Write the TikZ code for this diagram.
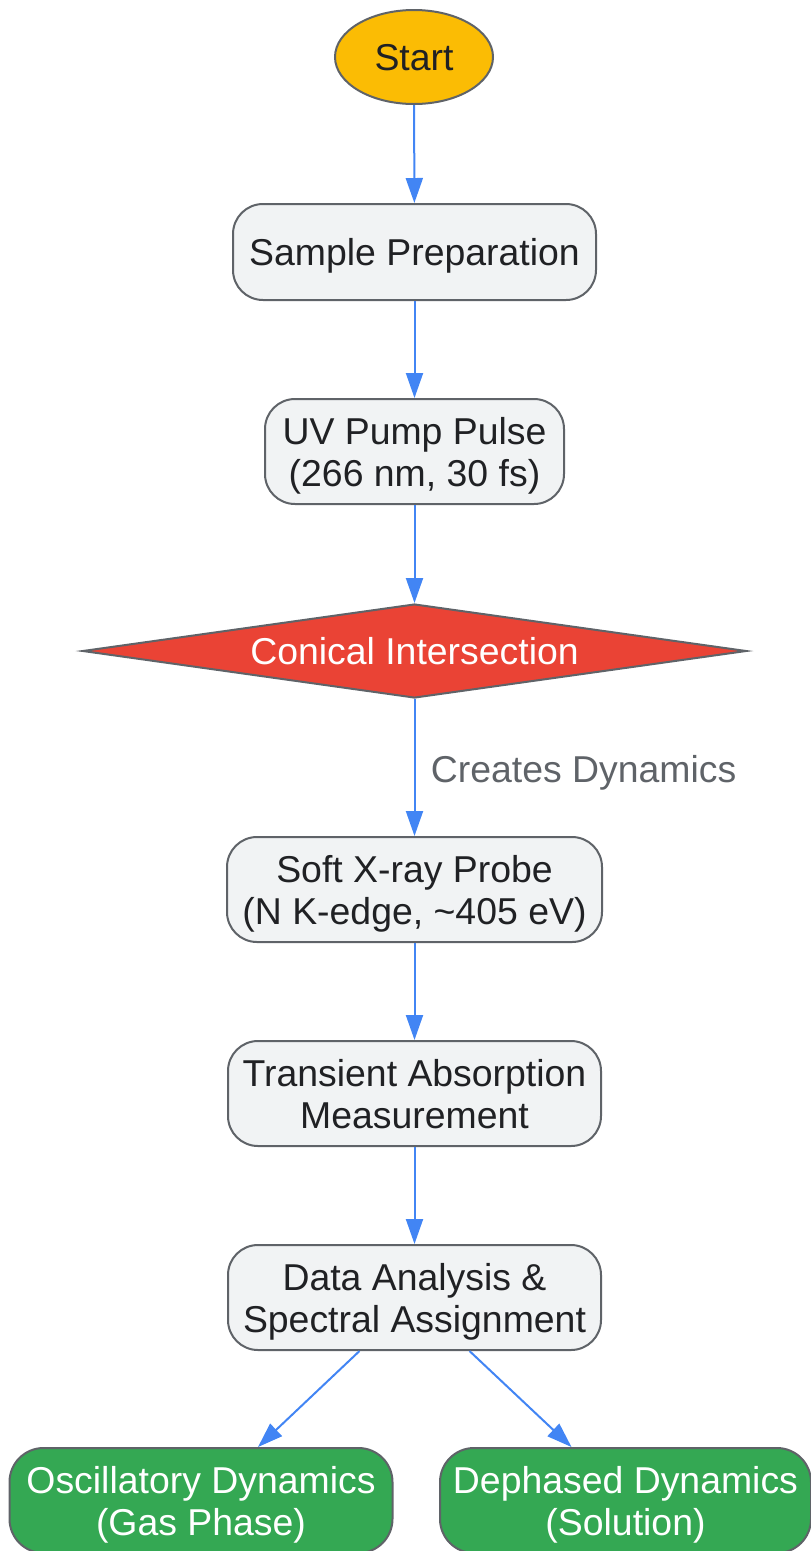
\documentclass[tikz,border=0pt]{standalone}
\usepackage{fontspec}
\setmainfont{Liberation Sans}
\usetikzlibrary{arrows.meta,shapes.geometric}
\definecolor{bordergray}{HTML}{5F6368}
\definecolor{boxfill}{HTML}{F1F3F4}
\definecolor{textdark}{HTML}{202124}
\definecolor{gyellow}{HTML}{FBBC04}
\definecolor{gred}{HTML}{EA4335}
\definecolor{ggreen}{HTML}{34A853}
\definecolor{gblue}{HTML}{4285F4}
\tikzset{
  base/.style={draw=bordergray, line width=2pt, inner sep=0pt, align=center,
    font=\fontsize{37.4}{42}\selectfont, text=textdark, text depth=0pt},
  procbox/.style={base, fill=boxfill, rounded corners=30pt},
  startnode/.style={base, ellipse, fill=gyellow, minimum width=158pt, minimum height=94pt},
  decision/.style={base, diamond, fill=gred, text=white, minimum width=664pt, minimum height=94pt, aspect=7},
  endbox/.style={base, fill=ggreen, text=white, rounded corners=34pt},
  conn/.style={draw=gblue, line width=2pt, -{Triangle[length=25pt,width=17pt]}},
  edgelabel/.style={font=\fontsize{37.4}{42}\selectfont, text=bordergray, anchor=west}
}
\begin{document}
\begin{tikzpicture}[x=1pt,y=-1pt]
\useasboundingbox (0,0) rectangle (811,1551);
\node[startnode] (start) at (414,57) {Start};
\node[procbox, minimum width=363pt, minimum height=96pt] (prep) at (414.5,252) {Sample Preparation};
\node[procbox, minimum width=299pt, minimum height=105pt] (pump) at (414.5,451.5) {UV Pump Pulse\\(266 nm, 30 fs)};
\node[decision] (ci) at (414.5,651) {Conical Intersection};
\node[procbox, minimum width=375pt, minimum height=105pt] (probe) at (414.5,889.5) {Soft X-ray Probe\\(N K-edge, \textasciitilde405 eV)};
\node[procbox, minimum width=373pt, minimum height=105pt] (tam) at (414.5,1093.5) {Transient Absorption\\Measurement};
\node[procbox, minimum width=373pt, minimum height=105pt] (da) at (414.5,1297.5) {Data Analysis \&\\Spectral Assignment};
\node[endbox, minimum width=383pt, minimum height=105pt] (osc) at (201,1500.5) {Oscillatory Dynamics\\(Gas Phase)};
\node[endbox, minimum width=371pt, minimum height=105pt] (dep) at (625.5,1500.5) {Dephased Dynamics\\(Solution)};

\draw[conn] (start) -- (prep);
\draw[conn] (prep) -- (pump);
\draw[conn] (pump) -- (ci);
\draw[conn] (ci) -- node[edgelabel, xshift=12pt, yshift=-5pt] (lbl) {Creates Dynamics} (probe);
\draw[conn] (probe) -- (tam);
\draw[conn] (tam) -- (da);
\draw[conn] ([xshift=-55pt]da.south) -- ([xshift=57pt]osc.north);
\draw[conn] ([xshift=55pt]da.south) -- ([xshift=-54pt]dep.north);
\end{tikzpicture}
\end{document}
